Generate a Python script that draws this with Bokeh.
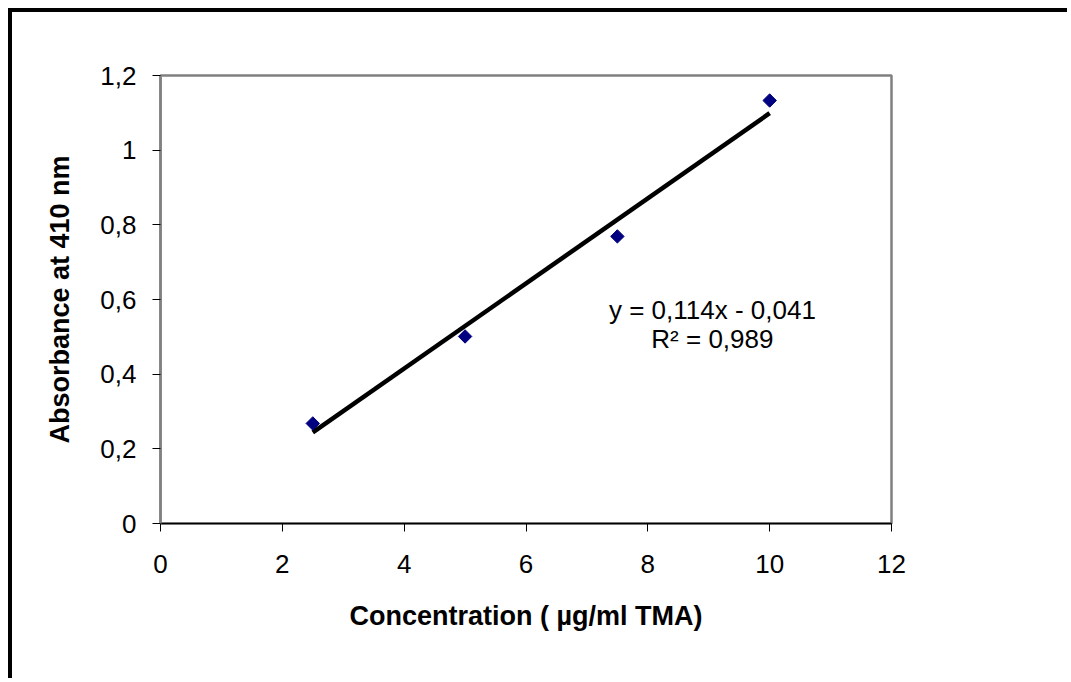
import numpy as np
from bokeh.plotting import figure
from bokeh.models import FixedTicker, Range1d
from bokeh.core.properties import value
from bokeh.embed import file_html
from bokeh.resources import INLINE

# data
conc = [2.5, 5.0, 7.5, 10.0]
absorb = [0.268, 0.501, 0.769, 1.133]
slope = 0.114
intercept = -0.041
r2 = 0.989
x_ticks = [0, 2, 4, 6, 8, 10, 12]
y_ticks = [0, 0.2, 0.4, 0.6, 0.8, 1.0, 1.2]
y_tick_labels = ["0", "0,2", "0,4", "0,6", "0,8", "1", "1,2"]
eq_lines = ["y = 0,114x - 0,041", "R\u00b2 = 0,989"]

FONT = "Liberation Sans"

p = figure(width=1059, height=670, output_backend="svg", toolbar_location=None,
           x_range=Range1d(0, 12), y_range=Range1d(0, 1.2),
           min_border_left=148, min_border_right=180,
           min_border_top=63, min_border_bottom=159)
p.styles = {"border-left": "4px solid black", "border-top": "4px solid black",
            "margin-left": "8px", "margin-top": "8px"}
p.background_fill_color = "white"
p.border_fill_color = "white"
p.outline_line_color = "#808080"
p.outline_line_width = 2.5
p.xgrid.visible = False
p.ygrid.visible = False

# axes
p.xaxis.ticker = FixedTicker(ticks=x_ticks)
p.yaxis.ticker = FixedTicker(ticks=y_ticks)
p.yaxis.major_label_overrides = {t: l for t, l in zip(y_ticks, y_tick_labels)}
for ax in (p.xaxis, p.yaxis):
    ax.minor_tick_line_color = None
    ax.major_tick_in = 0
    ax.major_tick_out = 8
    ax.major_tick_line_color = "black"
    ax.major_tick_line_width = 1
    ax.major_label_text_font = FONT
    ax.major_label_text_font_size = "26px"
    ax.major_label_text_color = "black"
    ax.axis_label_text_font = FONT
    ax.axis_label_text_font_size = "27px"
    ax.axis_label_text_font_style = "bold"
    ax.axis_label_text_color = "black"
p.xaxis.axis_line_color = "black"
p.xaxis.axis_line_width = 1.5
p.yaxis.axis_line_color = "#808080"
p.yaxis.axis_line_width = 2.5
p.xaxis.major_label_standoff = 23
p.yaxis.major_label_standoff = 16
p.xaxis.axis_label = "Concentration ( \u00b5g/ml TMA)"
p.yaxis.axis_label = "Absorbance at 410 nm"
p.xaxis.axis_label_standoff = 25
p.yaxis.axis_label_standoff = 22

# trend line from the equation
xl = np.array([conc[0], conc[-1]])
p.line(xl, slope * xl + intercept, line_color="black", line_width=4.5)

# data points
p.scatter(conc, absorb, marker="square", angle=np.pi / 4, size=9.5,
          fill_color="#000080", line_color="#000080")

# equation text
p.text(x=[9.06, 9.06], y=[0.572, 0.493], text=eq_lines,
       text_font=value(FONT), text_font_size="26px", text_color="black",
       text_align="center", text_baseline="middle")

open("out.html", "w").write(file_html(p, INLINE))
